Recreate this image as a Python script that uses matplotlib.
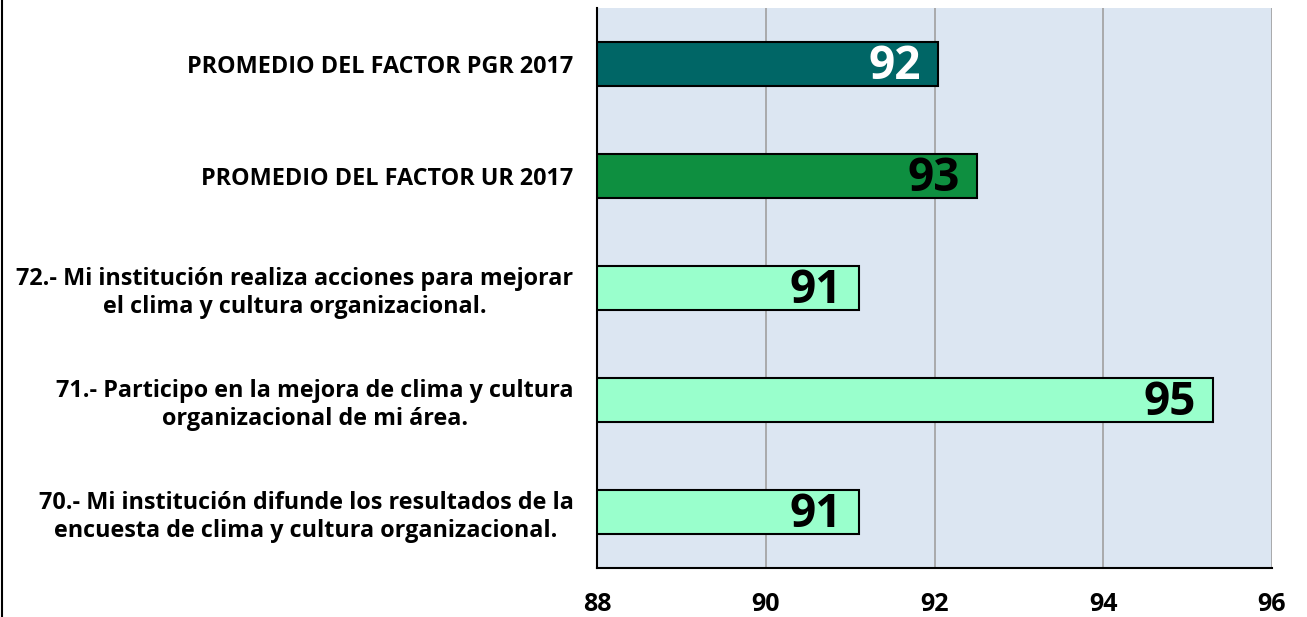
import matplotlib.pyplot as plt
from matplotlib.lines import Line2D

categorias = [
    "70.- Mi institución difunde los resultados de la\nencuesta de clima y cultura organizacional.",
    "71.- Participo en la mejora de clima y cultura\norganizacional de mi área.",
    "72.- Mi institución realiza acciones para mejorar\nel clima y cultura organizacional.",
    "PROMEDIO DEL FACTOR UR 2017",
    "PROMEDIO DEL FACTOR PGR 2017",
]
valores = [91.1, 95.3, 91.1, 92.5, 92.04]
etiquetas = ["91", "95", "91", "93", "92"]
colores = ["#99FFCC", "#99FFCC", "#99FFCC", "#0E8F40", "#006666"]
color_texto = ["black", "black", "black", "black", "white"]
ticks_x = [88, 90, 92, 94, 96]

plt.rcParams['font.family'] = ['Open Sans', 'DejaVu Sans']

fig = plt.figure(figsize=(13.07, 6.17), dpi=100)
ax = fig.add_axes([597/1307, 1 - 568/617, 675/1307, 560/617])
ax.set_facecolor("#DCE6F2")

y = range(len(categorias))
ax.barh(y, [v - 88 for v in valores], left=88, height=0.4,
        color=colores, edgecolor="black", linewidth=1.5, zorder=3)

for i, v in enumerate(valores):
    ax.text(v - 0.2, i - 0.02, etiquetas[i], ha="right", va="center",
            fontsize=33, fontweight="bold", color=color_texto[i], zorder=4)

ax.set_xlim(88, 96)
ax.set_ylim(-0.5, 4.5)
ax.set_xticks(ticks_x)
ax.set_xticklabels([str(t) for t in ticks_x], fontsize=18, fontweight="bold")
ax.set_yticks(list(y))
ax.set_yticklabels(categorias, fontsize=16.8, fontweight="bold",
                   multialignment="center", linespacing=1.2)
ax.tick_params(axis="both", length=0)
ax.tick_params(axis="x", pad=17)
ax.tick_params(axis="y", pad=17)

ax.grid(axis="x", color="#A0A0A0", linewidth=1.2, zorder=0)
ax.set_axisbelow(True)
for s in ["top", "right"]:
    ax.spines[s].set_visible(False)
ax.spines["left"].set_linewidth(1.5)
ax.spines["bottom"].set_linewidth(1.5)

fig.add_artist(Line2D([1.5/1307, 1.5/1307], [0, 1], color="black", linewidth=1.5))

fig.savefig("out.png", dpi=100)
